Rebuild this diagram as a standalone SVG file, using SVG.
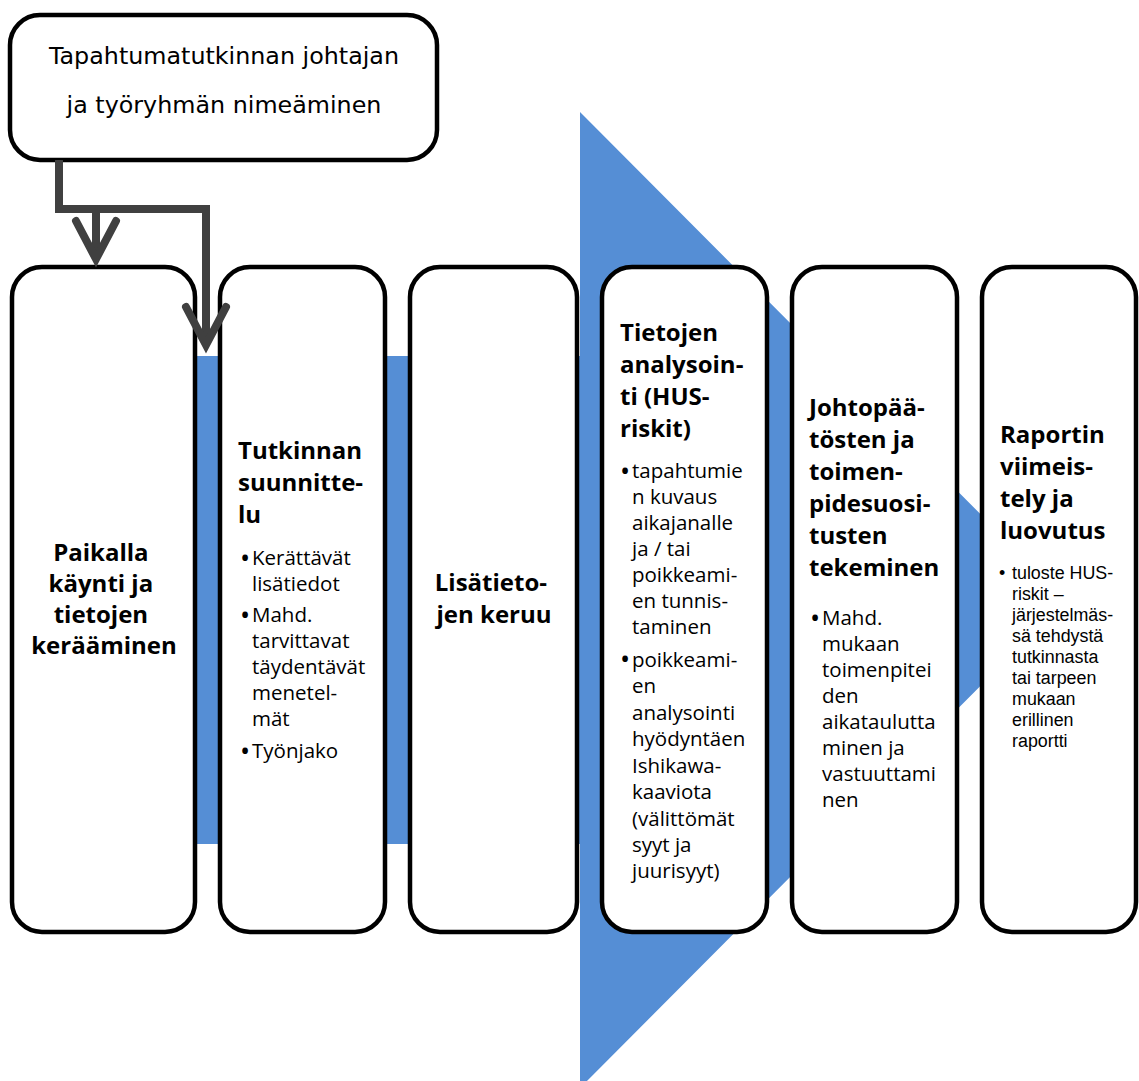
<svg xmlns="http://www.w3.org/2000/svg" width="1139" height="1081" viewBox="0 0 1139 1081">
  <style>
    .box { fill: #ffffff; stroke: #000000; stroke-width: 4.5; }
    .flow { fill: #558ed5; }
    .conn { fill: none; stroke: #404040; stroke-width: 8; stroke-linejoin: miter; }
    .head { font-family: "DejaVu Sans", Verdana, sans-serif; font-size: 23.8px; fill: #000; }
    .title { font-family: "Open Sans", "DejaVu Sans", sans-serif; font-weight: 700; font-size: 24px; fill: #000; }
    .body { font-family: "Open Sans", "DejaVu Sans", sans-serif; font-size: 20.5px; fill: #000; }
    .bul { font-size: 27px; }
    .body2 { font-family: "Liberation Sans", Arial, sans-serif; font-size: 19px; fill: #000; }
    .mid { text-anchor: middle; }
  </style>
  <defs>
    <marker id="chev" markerUnits="userSpaceOnUse" viewBox="-45 -30 60 60" markerWidth="60" markerHeight="60" refX="0" refY="0" orient="auto" overflow="visible">
      <path d="M-32,-20 L6,0 L-32,20" fill="none" stroke="#404040" stroke-width="8" stroke-linecap="round" stroke-linejoin="miter"/>
    </marker>
  </defs>

  <!-- process arrow in the background -->
  <path class="flow" d="M150,356 H580 V112 L1066,600 L580,1088 V844 H150 Z"/>

  <g id="node-start">
    <rect class="box" x="10" y="15" width="427" height="145" rx="30"/>
    <text class="head mid" x="224" y="64">Tapahtumatutkinnan johtajan</text>
    <text class="head mid" x="224" y="113">ja työryhmän nimeäminen</text>
  </g>

  <g id="node-paikalla">
    <rect class="box" x="12" y="267" width="183" height="665" rx="30"/>
    <text class="title mid" x="104">
      <tspan x="104" y="561">Paikalla</tspan>
      <tspan x="104" y="592">käynti ja</tspan>
      <tspan x="104" y="623">tietojen</tspan>
      <tspan x="104" y="654">kerääminen</tspan>
    </text>
  </g>

  <g id="node-suunnittelu">
    <rect class="box" x="220" y="267" width="165" height="665" rx="30"/>
    <text class="title">
      <tspan x="238" y="459">Tutkinnan</tspan>
      <tspan x="238" y="491">suunnitte-</tspan>
      <tspan x="238" y="523">lu</tspan>
    </text>
    <text class="body">
      <tspan class="bul" x="240" y="567.5">•</tspan><tspan x="252" y="565">Kerättävät</tspan>
      <tspan x="252" y="591">lisätiedot</tspan>
      <tspan class="bul" x="240" y="624.5">•</tspan><tspan x="252" y="622">Mahd.</tspan>
      <tspan x="252" y="648">tarvittavat</tspan>
      <tspan x="252" y="674">täydentävät</tspan>
      <tspan x="252" y="700">menetel-</tspan>
      <tspan x="252" y="726">mät</tspan>
      <tspan class="bul" x="240" y="760.5">•</tspan><tspan x="252" y="758">Työnjako</tspan>
    </text>
  </g>

  <g id="node-keruu">
    <rect class="box" x="410" y="267" width="167" height="665" rx="30"/>
    <text class="title mid">
      <tspan x="494" y="591">Lisätieto-</tspan>
      <tspan x="494" y="623">jen keruu</tspan>
    </text>
  </g>

  <g id="node-analysointi">
    <rect class="box" x="602" y="267" width="165" height="665" rx="30"/>
    <text class="title">
      <tspan x="620" y="341">Tietojen</tspan>
      <tspan x="620" y="373">analysoin-</tspan>
      <tspan x="620" y="405">ti (HUS-</tspan>
      <tspan x="620" y="437">riskit)</tspan>
    </text>
    <text class="body">
      <tspan class="bul" x="620" y="480.5">•</tspan><tspan x="632" y="478">tapahtumie</tspan>
      <tspan x="632" y="504">n kuvaus</tspan>
      <tspan x="632" y="530">aikajanalle</tspan>
      <tspan x="632" y="556">ja / tai</tspan>
      <tspan x="632" y="582">poikkeami-</tspan>
      <tspan x="632" y="608">en tunnis-</tspan>
      <tspan x="632" y="634">taminen</tspan>
      <tspan class="bul" x="620" y="669">•</tspan><tspan x="632" y="666.5">poikkeami-</tspan>
      <tspan x="632" y="693">en</tspan>
      <tspan x="632" y="719.5">analysointi</tspan>
      <tspan x="632" y="746">hyödyntäen</tspan>
      <tspan x="632" y="772.5">Ishikawa-</tspan>
      <tspan x="632" y="799">kaaviota</tspan>
      <tspan x="632" y="825.5">(välittömät</tspan>
      <tspan x="632" y="852">syyt ja</tspan>
      <tspan x="632" y="878">juurisyyt)</tspan>
    </text>
  </g>

  <g id="node-johtopaatokset">
    <rect class="box" x="792" y="267" width="165" height="665" rx="30"/>
    <text class="title">
      <tspan x="809" y="416">Johtopää-</tspan>
      <tspan x="809" y="448">tösten ja</tspan>
      <tspan x="809" y="480">toimen-</tspan>
      <tspan x="809" y="512">pidesuosi-</tspan>
      <tspan x="809" y="544">tusten</tspan>
      <tspan x="809" y="576">tekeminen</tspan>
    </text>
    <text class="body">
      <tspan class="bul" x="810" y="627.5">•</tspan><tspan x="822" y="625">Mahd.</tspan>
      <tspan x="822" y="651">mukaan</tspan>
      <tspan x="822" y="677">toimenpitei</tspan>
      <tspan x="822" y="703">den</tspan>
      <tspan x="822" y="729">aikataulutta</tspan>
      <tspan x="822" y="755">minen ja</tspan>
      <tspan x="822" y="781">vastuuttami</tspan>
      <tspan x="822" y="807">nen</tspan>
    </text>
  </g>

  <g id="node-raportti">
    <rect class="box" x="982" y="267" width="154" height="665" rx="30"/>
    <text class="title">
      <tspan x="1000" y="443">Raportin</tspan>
      <tspan x="1000" y="475">viimeis-</tspan>
      <tspan x="1000" y="507">tely ja</tspan>
      <tspan x="1000" y="539">luovutus</tspan>
    </text>
    <text class="body2" transform="translate(1000,0) scale(0.94,1) translate(-1000,0)">
      <tspan x="999" y="579">•</tspan><tspan x="1012.8" y="579">tuloste HUS-</tspan>
      <tspan x="1012.8" y="600">riskit –</tspan>
      <tspan x="1012.8" y="621">järjestelmäs-</tspan>
      <tspan x="1012.8" y="642">sä tehdystä</tspan>
      <tspan x="1012.8" y="663">tutkinnasta</tspan>
      <tspan x="1012.8" y="684">tai tarpeen</tspan>
      <tspan x="1012.8" y="705">mukaan</tspan>
      <tspan x="1012.8" y="726">erillinen</tspan>
      <tspan x="1012.8" y="747">raportti</tspan>
    </text>
  </g>

  <g id="connectors">
    <path class="conn" d="M59,160 V209 H96 V253" marker-end="url(#chev)"/>
    <path class="conn" d="M59,160 V209 H206 V339" marker-end="url(#chev)"/>
  </g>
</svg>
